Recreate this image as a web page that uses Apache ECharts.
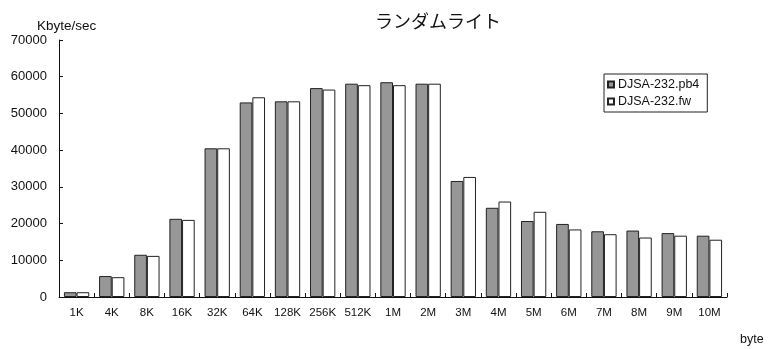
<!DOCTYPE html>
<html>
<head>
<meta charset="utf-8">
<script src="https://cdn.jsdelivr.net/npm/echarts@6/dist/echarts.min.js"></script>
<style>
  html, body { margin: 0; padding: 0; background: #fff; }
  #chart { width: 769px; height: 349px; }
</style>
</head>
<body>
<div id="chart"></div>
<script>
// Block sizes tested
const categories = ['1K', '4K', '8K', '16K', '32K', '64K', '128K', '256K', '512K', '1M',
                    '2M', '3M', '4M', '5M', '6M', '7M', '8M', '9M', '10M'];
// Random-write throughput, Kbyte/sec
const pb4Values = [1300, 5700, 11500, 21300, 40500, 53000, 53300, 56900, 58100, 58500,
                   58100, 31600, 24300, 20700, 19900, 17900, 18100, 17400, 16700];
const fwValues  = [1300, 5400, 11200, 21000, 40500, 54400, 53300, 56500, 57700, 57700,
                   58100, 32700, 26000, 23200, 18400, 17100, 16200, 16700, 15600];
const seriesNames = ['DJSA-232.pb4', 'DJSA-232.fw'];
const titleText = 'ランダムライト';
const yUnit = 'Kbyte/sec';
const xUnit = 'byte';

const baseFont = '"Liberation Sans", Arial, Helvetica, sans-serif';
const chart = echarts.init(document.getElementById('chart'), null, { renderer: 'canvas' });

chart.setOption({
  animation: false,
  backgroundColor: '#ffffff',
  title: {
    text: titleText,
    left: 370,
    top: 7,
    textStyle: { fontFamily: '"Noto Sans CJK JP", sans-serif', fontSize: 18, fontWeight: 'normal', color: '#111' }
  },
  legend: {
    orient: 'vertical',
    left: 604,
    top: 74,
    width: 103,
    padding: [4, 8, 4, 3],
    itemGap: 4,
    itemWidth: 6,
    itemHeight: 6,
    icon: 'rect',
    borderColor: '#222',
    borderWidth: 1,
    textStyle: { fontFamily: baseFont, fontSize: 12.5, color: '#111', padding: [0, 0, 0, -1] },
    data: seriesNames
  },
  grid: { left: 59, right: 42, top: 40, bottom: 52, containLabel: false },
  xAxis: {
    type: 'category',
    data: categories,
    axisLine: { lineStyle: { color: '#111', width: 1 } },
    axisTick: { show: true, inside: true, length: 4, alignWithLabel: false, lineStyle: { color: '#111' } },
    axisLabel: { fontFamily: baseFont, fontSize: 11.5, color: '#111', margin: 10 }
  },
  yAxis: {
    type: 'value',
    min: 0,
    max: 70000,
    interval: 10000,
    splitLine: { show: false },
    axisLine: { show: true, lineStyle: { color: '#111', width: 1 } },
    axisTick: { show: true, inside: true, length: 4, lineStyle: { color: '#111' } },
    axisLabel: {
      fontFamily: baseFont, fontSize: 13, color: '#111', margin: 12,
      formatter: function (v) { return String(v); }
    }
  },
  graphic: [
    { type: 'text', left: 37, top: 19, style: { text: yUnit, font: '13.5px ' + baseFont, fill: '#111' } },
    { type: 'text', left: 740, top: 333, style: { text: xUnit, font: '12.5px ' + baseFont, fill: '#111' } }
  ],
  series: [
    {
      name: seriesNames[0],
      type: 'bar',
      data: pb4Values,
      barGap: '0%',
      barCategoryGap: '28%',
      itemStyle: { color: '#979797', borderColor: '#222', borderWidth: 1 }
    },
    {
      name: seriesNames[1],
      type: 'bar',
      data: fwValues,
      itemStyle: { color: '#ffffff', borderColor: '#222', borderWidth: 1 }
    }
  ]
});
</script>
</body>
</html>
